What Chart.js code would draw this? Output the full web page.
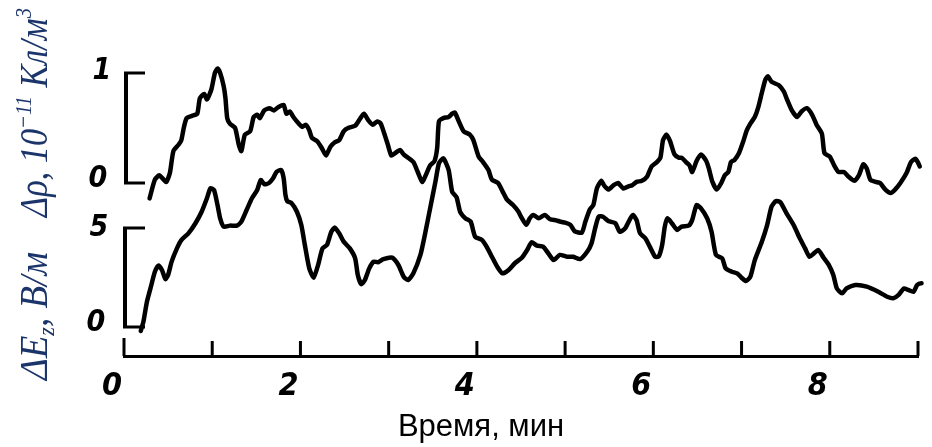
<!DOCTYPE html>
<html>
<head>
<meta charset="utf-8">
<title>Δρ и ΔEz</title>
<script src="https://cdn.jsdelivr.net/npm/chart.js@4.4.1/dist/chart.umd.min.js"></script>
<style>
  html, body { margin: 0; padding: 0; background: #fff; }
  #wrap { width: 932px; height: 447px; }
</style>
</head>
<body>
<div id="wrap"><canvas id="chargeFieldChart" width="932" height="447"></canvas></div>
<script>
// ====================================================================
// DATA
// ====================================================================

// x axis: time, minutes
const timeMin = 0;
const timeMax = 9;
const timeTickLabels = ['0', '', '2', '', '4', '', '6', '', '8', ''];

// upper trace: Δρ, 10^-11 Кл/м³
const rhoTime = [0.29,0.35,0.40,0.45,0.48,0.52,0.56,0.62,0.65,0.68,0.71,0.77,0.83,0.86,0.91,0.94,0.99,1.03,1.06,1.09,
  1.13,1.15,1.17,1.20,1.26,1.30,1.33,1.37,1.43,1.47,1.51,1.54,1.59,1.65,1.70,1.75,1.81,1.84,1.88,1.92,
  1.98,2.02,2.06,2.10,2.13,2.19,2.24,2.29,2.34,2.39,2.44,2.49,2.54,2.62,2.68,2.72,2.77,2.82,2.87,2.91,
  2.95,2.99,3.03,3.07,3.13,3.17,3.22,3.28,3.33,3.38,3.42,3.47,3.52,3.55,3.57,3.62,3.68,3.72,3.75,3.79,
  3.85,3.92,3.96,4.02,4.07,4.13,4.17,4.24,4.30,4.34,4.41,4.47,4.51,4.56,4.60,4.64,4.70,4.77,4.83,4.90,
  4.94,5.00,5.06,5.11,5.19,5.23,5.28,5.32,5.36,5.41,5.44,5.49,5.55,5.60,5.66,5.72,5.76,5.81,5.87,5.93,
  5.98,6.04,6.08,6.11,6.15,6.19,6.24,6.29,6.32,6.37,6.41,6.44,6.49,6.54,6.60,6.63,6.67,6.72,6.77,6.81,
  6.85,6.88,6.92,6.97,7.02,7.06,7.10,7.15,7.19,7.23,7.27,7.30,7.34,7.42,7.48,7.51,7.57,7.63,7.68,7.74,
  7.80,7.85,7.91,7.94,8.00,8.05,8.10,8.16,8.21,8.28,8.33,8.38,8.42,8.46,8.52,8.57,8.63,8.69,8.74,8.80,
  8.87,8.92,8.97,9.02,9.06,9.10,9.15];
const rhoValues = [-0.14,0.03,0.07,0.03,0.01,0.09,0.29,0.35,0.39,0.51,0.59,0.61,0.63,0.77,0.81,0.76,0.85,1.00,1.04,1.00,
  0.88,0.77,0.59,0.54,0.50,0.35,0.29,0.44,0.47,0.60,0.62,0.59,0.66,0.68,0.66,0.69,0.71,0.63,0.65,0.60,
  0.54,0.51,0.53,0.48,0.41,0.38,0.32,0.25,0.33,0.37,0.39,0.47,0.50,0.52,0.59,0.63,0.57,0.53,0.56,0.54,
  0.45,0.35,0.25,0.27,0.30,0.26,0.23,0.19,0.10,0.01,0.07,0.16,0.20,0.32,0.56,0.59,0.60,0.63,0.64,0.57,
  0.47,0.44,0.39,0.24,0.19,0.12,0.03,0.00,-0.09,-0.15,-0.20,-0.26,-0.32,-0.38,-0.32,-0.29,-0.32,-0.29,-0.33,-0.34,
  -0.35,-0.36,-0.38,-0.44,-0.45,-0.35,-0.24,-0.20,-0.05,0.02,-0.02,-0.06,-0.02,0.00,-0.05,-0.03,-0.02,0.01,0.02,0.06,
  0.15,0.19,0.23,0.39,0.44,0.38,0.26,0.23,0.23,0.19,0.16,0.10,0.20,0.26,0.20,0.13,0.01,-0.06,0.00,0.07,
  0.10,0.19,0.21,0.27,0.38,0.48,0.54,0.60,0.69,0.82,0.94,0.97,0.92,0.89,0.83,0.77,0.66,0.60,0.65,0.68,
  0.62,0.53,0.45,0.27,0.24,0.16,0.10,0.10,0.06,0.02,0.07,0.17,0.13,0.03,0.01,0.00,-0.06,-0.09,-0.06,0.00,
  0.09,0.19,0.22,0.15,0.03,0.00,0.04];

// lower trace: ΔEz, В/м
const fieldTime = [0.19,0.22,0.26,0.31,0.35,0.39,0.43,0.47,0.50,0.54,0.60,0.65,0.73,0.81,0.88,0.94,0.98,1.02,1.06,1.09,
  1.13,1.20,1.28,1.33,1.39,1.45,1.51,1.55,1.59,1.64,1.69,1.73,1.78,1.81,1.83,1.85,1.90,1.96,2.01,2.05,
  2.10,2.15,2.20,2.25,2.30,2.35,2.39,2.44,2.49,2.56,2.62,2.65,2.69,2.73,2.78,2.83,2.88,2.94,3.04,3.11,
  3.17,3.22,3.28,3.36,3.41,3.47,3.53,3.57,3.62,3.68,3.72,3.77,3.81,3.87,3.93,3.98,4.06,4.11,4.17,4.23,
  4.29,4.36,4.43,4.51,4.57,4.62,4.68,4.75,4.81,4.87,4.94,5.02,5.09,5.17,5.25,5.30,5.34,5.38,5.43,5.49,
  5.57,5.62,5.68,5.74,5.77,5.81,5.85,5.91,5.96,6.02,6.06,6.10,6.13,6.16,6.21,6.27,6.32,6.40,6.44,6.49,
  6.54,6.61,6.66,6.71,6.78,6.82,6.89,6.95,7.00,7.05,7.10,7.15,7.23,7.29,7.34,7.39,7.44,7.51,7.59,7.66,
  7.72,7.77,7.82,7.87,7.93,7.99,8.04,8.08,8.14,8.19,8.29,8.42,8.55,8.65,8.72,8.78,8.84,8.89,8.95,8.99,
  9.04,9.10,9.16];
const fieldValues = [-0.20,0.27,1.28,2.12,2.79,3.10,2.88,2.42,2.63,3.30,3.97,4.39,4.73,5.24,5.82,6.50,7.01,6.92,6.16,5.49,
  5.07,5.12,5.12,5.32,5.91,6.50,6.92,7.42,7.21,7.26,7.51,7.84,7.93,7.51,6.67,6.36,6.25,5.82,5.15,4.14,
  2.96,2.49,3.13,3.97,4.14,4.81,5.02,4.73,4.31,3.97,3.47,2.63,2.16,2.37,2.96,3.30,3.27,3.43,3.50,3.13,
  2.54,2.37,2.71,3.64,4.65,5.99,7.34,8.27,8.52,7.93,6.83,6.55,5.82,5.49,5.32,4.56,4.39,4.06,3.55,3.05,
  2.71,2.88,3.22,3.50,3.89,4.28,4.11,4.06,3.72,3.38,3.64,3.55,3.55,3.43,3.80,4.23,4.98,5.57,5.57,5.35,
  5.24,4.81,4.98,5.49,5.66,5.40,4.73,4.48,4.06,3.55,3.55,4.14,5.07,5.49,5.24,4.90,5.07,5.12,5.40,6.16,
  5.99,5.49,4.81,3.64,3.47,2.96,2.79,2.71,2.49,2.32,2.54,3.38,4.31,5.15,6.08,6.36,6.30,5.74,5.15,4.48,
  3.97,3.55,3.72,3.89,3.50,3.13,2.63,1.95,1.70,1.95,2.12,2.04,1.78,1.53,1.45,1.62,1.95,1.87,1.78,2.12,
  2.21,2.16,2.04];

// scale brackets: [low, high] marked on each trace
const rhoBracket = [0, 1];
const fieldBracket = [0, 5];

// visible window of each (hidden) vertical scale
const rhoRange = [-1.5727, 1.3];
const fieldRange = [-1.4646, 14.495];

// ====================================================================
// DRAWING HELPERS
// ====================================================================

const digitFont = "'Liberation Sans Narrow', 'DejaVu Sans Condensed', 'DejaVu Sans', sans-serif";
const labelBlue = '#1b356b';

function toPoints(xs, ys) {
  return xs.map((x, i) => ({ x: x, y: ys[i] }));
}

function drawBracket(ctx, px, yLow, yHigh, serif) {
  ctx.lineWidth = 4;
  ctx.beginPath();
  ctx.moveTo(px, yLow);
  ctx.lineTo(px, yHigh);
  ctx.stroke();
  ctx.lineWidth = 3;
  ctx.beginPath();
  ctx.moveTo(px - 2, yHigh);
  ctx.lineTo(px + serif, yHigh);
  ctx.moveTo(px - 2, yLow);
  ctx.lineTo(px + serif, yLow);
  ctx.stroke();
}

// writes pieces of text bottom-to-top, squeezed to fit between fromY and toY
function drawVerticalRun(ctx, pieces, baseX, fromY, toY) {
  let total = 0;
  pieces.forEach(p => {
    ctx.font = `italic ${p.size}px 'Liberation Serif', 'DejaVu Serif', serif`;
    p.w = ctx.measureText(p.text).width;
    total += p.w;
  });
  const k = (fromY - toY) / total;
  ctx.save();
  ctx.translate(baseX, fromY);
  ctx.rotate(-Math.PI / 2);
  ctx.scale(k, 1);
  ctx.fillStyle = labelBlue;
  ctx.textBaseline = 'alphabetic';
  ctx.textAlign = 'left';
  let u = 0;
  pieces.forEach(p => {
    ctx.font = `italic ${p.size}px 'Liberation Serif', 'DejaVu Serif', serif`;
    ctx.fillText(p.text, u, p.shift || 0);
    u += p.w;
  });
  ctx.restore();
}

const paperDecor = {
  id: 'paperDecor',
  afterDraw(chart) {
    const ctx = chart.ctx;
    const xs = chart.scales.x;
    const yRho = chart.scales.yRho;
    const yField = chart.scales.yField;
    const base = chart.chartArea.bottom;
    const x0 = xs.getPixelForValue(0);

    ctx.save();
    ctx.strokeStyle = '#000';
    ctx.fillStyle = '#000';

    // time ticks point up from the baseline
    ctx.lineWidth = 3;
    xs.ticks.forEach(t => {
      const px = xs.getPixelForValue(t.value);
      const len = t.value === 0 ? 18 : 15;
      ctx.beginPath();
      ctx.moveTo(px, base);
      ctx.lineTo(px, base - len);
      ctx.stroke();
    });

    // scale brackets
    const rhoLow = yRho.getPixelForValue(rhoBracket[0]);
    const rhoHigh = yRho.getPixelForValue(rhoBracket[1]);
    const fLow = yField.getPixelForValue(fieldBracket[0]);
    const fHigh = yField.getPixelForValue(fieldBracket[1]);
    drawBracket(ctx, x0 + 2, rhoLow, rhoHigh, 19);
    drawBracket(ctx, x0 + 1, fLow, fHigh, 20);

    // bracket numbers
    ctx.font = `italic bold 30px ${digitFont}`;
    ctx.textAlign = 'center';
    ctx.textBaseline = 'middle';
    ctx.fillText(String(rhoBracket[1]), x0 - 22, rhoHigh - 2);
    ctx.fillText(String(rhoBracket[0]), x0 - 26, rhoLow - 4);
    ctx.fillText(String(fieldBracket[1]), x0 - 25, fHigh);
    ctx.fillText(String(fieldBracket[0]), x0 - 28, fLow - 4);

    // x title
    ctx.font = "31px 'Liberation Sans', Arial, sans-serif";
    ctx.textBaseline = 'alphabetic';
    ctx.fillText('Время, мин', 481, 436);

    // rotated y title
    drawVerticalRun(ctx, [
      { text: 'ΔE', size: 40 },
      { text: 'z', size: 24, shift: 7 },
      { text: ', В/м', size: 40 }
    ], 47, 380, 252);
    drawVerticalRun(ctx, [
      { text: 'Δρ, 10', size: 40 },
      { text: '−11', size: 24, shift: -16 },
      { text: ' Кл/м', size: 40 },
      { text: '3', size: 24, shift: -16 }
    ], 47, 217, 8);

    ctx.restore();
  }
};

// ====================================================================
// CHART
// ====================================================================

function buildChargeFieldChart() {
  const canvas = document.getElementById('chargeFieldChart');
  const lineStyle = {
    borderColor: '#000',
    borderWidth: 4.5,
    pointRadius: 0,
    tension: 0.2,
    fill: false,
    clip: false,
    borderJoinStyle: 'round',
    borderCapStyle: 'round'
  };

  return new Chart(canvas.getContext('2d'), {
    type: 'line',
    data: {
      datasets: [
        Object.assign({ label: 'Δρ', data: toPoints(rhoTime, rhoValues), yAxisID: 'yRho' }, lineStyle),
        Object.assign({ label: 'ΔEz', data: toPoints(fieldTime, fieldValues), yAxisID: 'yField' }, lineStyle)
      ]
    },
    options: {
      responsive: false,
      animation: false,
      devicePixelRatio: 1,
      layout: { padding: { left: 124, right: 14, top: 40, bottom: 37 } },
      plugins: {
        legend: { display: false },
        tooltip: { enabled: false }
      },
      scales: {
        x: {
          type: 'linear',
          min: timeMin,
          max: timeMax,
          grid: { display: false },
          border: { display: true, color: '#000', width: 3 },
          ticks: {
            stepSize: 1,
            autoSkip: false,
            maxRotation: 0,
            padding: 7,
            labelOffset: -12,
            color: '#000',
            font: { family: digitFont, size: 32, style: 'italic', weight: 'bold', lineHeight: 1 },
            callback: value => timeTickLabels[Math.round(value)] || ''
          }
        },
        yRho: {
          display: false,
          min: rhoRange[0],
          max: rhoRange[1]
        },
        yField: {
          display: false,
          min: fieldRange[0],
          max: fieldRange[1]
        }
      }
    },
    plugins: [paperDecor]
  });
}

document.addEventListener('DOMContentLoaded', () => {
  if (typeof Chart === 'undefined') {
    console.error('Chart.js is not available');
    return;
  }
  buildChargeFieldChart();
});
</script>
</body>
</html>
